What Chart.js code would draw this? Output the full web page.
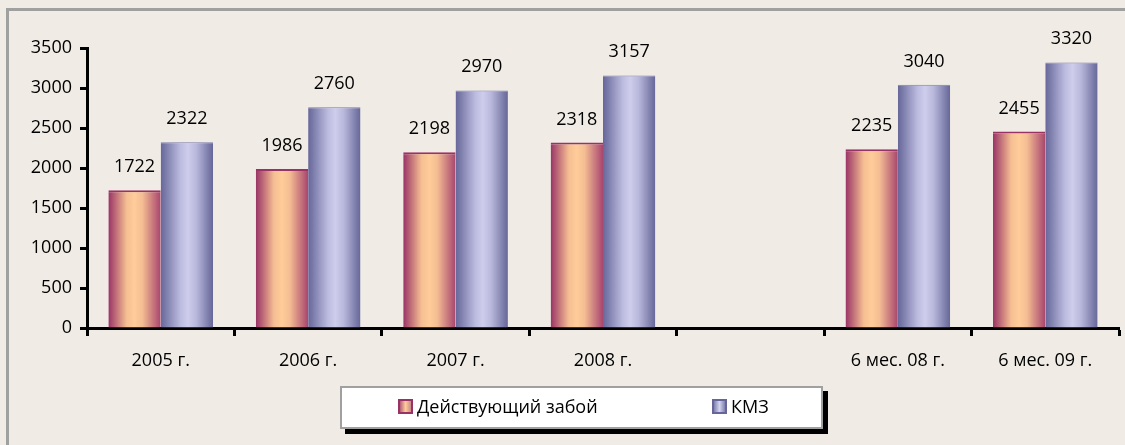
<!DOCTYPE html>
<html>
<head>
<meta charset="utf-8">
<script src="https://cdn.jsdelivr.net/npm/chart.js@4"></script>
<style>
  html, body { margin: 0; padding: 0; background: #f0ece5; }
  body { width: 1125px; height: 445px; position: relative; overflow: hidden; font-family: 'Open Sans', sans-serif; }
  #frame { position: absolute; left: 6px; top: 8px; width: 1200px; height: 500px;
           border-left: 3px solid #a0a0a0; border-top: 3px solid #a0a0a0; }
  #wrap { position: absolute; left: 0; top: 0; width: 1125px; height: 445px; }
  #legend { position: absolute; left: 340px; top: 386px; width: 479px; height: 39px;
            background: #fff; border: 2px solid #a0a0a0; box-shadow: 5px 5px 0 #000;
            font-size: 18px; color: #000; }
  .item { position: absolute; top: 7px; line-height: 22px; white-space: nowrap; }
  .box { display: inline-block; width: 11px; height: 11px; border: 2px solid; vertical-align: -1px; margin-right: 4px; }
</style>
</head>
<body>
<div id="frame"></div>
<div id="wrap"><canvas id="chart" width="1125" height="445"></canvas></div>
<div id="legend">
  <span class="item" style="left:56px"><span class="box" style="border-color:#993366;background:linear-gradient(90deg,#b35f7a,#ffcc99,#c98a8a)"></span>Действующий забой</span>
  <span class="item" style="left:370px"><span class="box" style="border-color:#666699;background:linear-gradient(90deg,#8080b0,#d4d4f0,#8080b0)"></span>КМЗ</span>
</div>
<script>
const LABELS   = ['2005 г.', '2006 г.', '2007 г.', '2008 г.', '', '6 мес. 08 г.', '6 мес. 09 г.'];
const ZABOY    = [1722, 1986, 2198, 2318, null, 2235, 2455];
const KMZ      = [2322, 2760, 2970, 3157, null, 3040, 3320];
const Y_TICKS  = [0, 500, 1000, 1500, 2000, 2500, 3000, 3500];

const CAT_PCT = 0.71;

Chart.defaults.font.family = 'Open Sans';
Chart.defaults.font.size = 18;
Chart.defaults.color = '#000';

const STOPS = [
  [[0, '#993366'], [0.35, '#f6bf93'], [0.5, '#ffcc99'], [0.65, '#f4bd93'], [1, '#a8456e']],
  [[0, '#666699'], [0.38, '#bcbce0'], [0.52, '#cfcdec'], [0.68, '#b8b8dc'], [1, '#666699']],
];
const SOLID = ['#ffcc99', '#ccccee'];

function barFill(ctx) {
  const chart = ctx.chart;
  const x = chart.scales.x;
  if (ctx.type !== 'data' || !x || !chart.chartArea) return SOLID[ctx.datasetIndex] || '#ccc';
  const catW = x.width / LABELS.length;
  const barW = catW * CAT_PCT / 2;
  const center = x.getPixelForValue(ctx.dataIndex);
  const left = ctx.datasetIndex === 0 ? center - barW : center;
  const g = chart.ctx.createLinearGradient(left, 0, left + barW, 0);
  STOPS[ctx.datasetIndex].forEach(([p, c]) => g.addColorStop(p, c));
  return g;
}

const valueLabels = {
  id: 'valueLabels',
  afterDatasetsDraw(chart) {
    const c = chart.ctx;
    c.save();
    c.font = '18px "Open Sans"';
    c.fillStyle = '#000';
    c.textAlign = 'center';
    c.textBaseline = 'alphabetic';
    chart.data.datasets.forEach((ds, i) => {
      chart.getDatasetMeta(i).data.forEach((el, j) => {
        if (ds.data[j] == null) return;
        c.fillText(ds.data[j], el.x, el.y - 18);
      });
    });
    c.restore();
  }
};

new Chart(document.getElementById('chart'), {
  type: 'bar',
  data: {
    labels: LABELS,
    datasets: [
      { label: 'Действующий забой', data: ZABOY, backgroundColor: barFill,
        borderColor: '#993366', borderWidth: { top: 2, left: 0, right: 0, bottom: 0 }, borderSkipped: false },
      { label: 'КМЗ', data: KMZ, backgroundColor: barFill,
        borderColor: '#7a7aaa', borderWidth: { top: 1, left: 0, right: 0, bottom: 0 }, borderSkipped: false },
    ]
  },
  options: {
    responsive: false,
    animation: false,
    datasets: { bar: { categoryPercentage: CAT_PCT, barPercentage: 1 } },
    layout: { padding: { left: 0, top: 48, right: 6, bottom: 67 } },
    plugins: { legend: { display: false }, tooltip: { enabled: false } },
    scales: {
      x: {
        grid: { offset: true, drawOnChartArea: false, drawTicks: true, tickLength: 8, tickWidth: 3, tickColor: '#000' },
        border: { color: '#000', width: 3 },
        ticks: { padding: 14, maxRotation: 0, autoSkip: false },
        afterFit: s => { s.height = 50; },
      },
      y: {
        min: 0, max: 3500,
        afterBuildTicks: s => { s.ticks = Y_TICKS.map(v => ({ value: v })); },
        grid: { drawOnChartArea: false, drawTicks: true, tickLength: 7, tickWidth: 3, tickColor: '#000' },
        border: { color: '#000', width: 3 },
        ticks: { padding: 8, callback: v => String(v) },
        afterFit: s => { s.width = 87; },
      }
    }
  },
  plugins: [valueLabels]
});
</script>
</body>
</html>
